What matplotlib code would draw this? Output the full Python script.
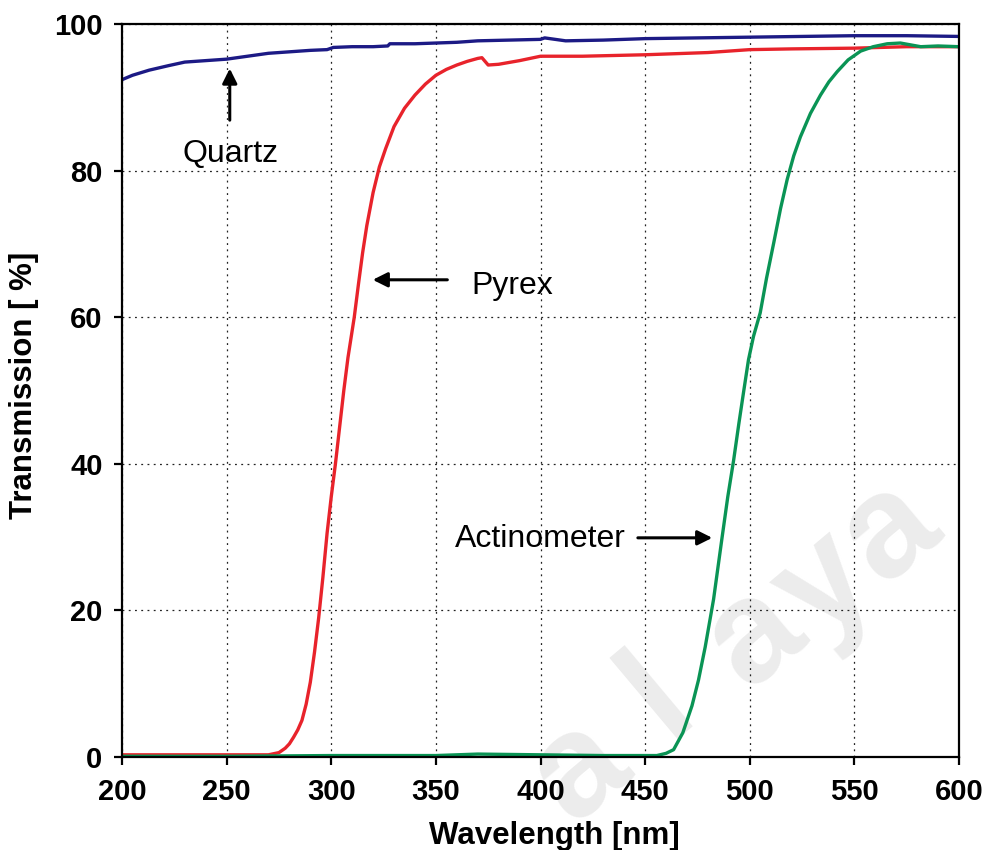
import matplotlib
matplotlib.use("Agg")
import matplotlib.pyplot as plt

plt.rcParams['font.family'] = ['Liberation Sans', 'DejaVu Sans']

# ---- data ----
quartz_nm = [200, 205, 213, 222, 230, 240, 250, 260, 270, 280, 290, 298, 301, 310, 320,
             327, 328, 340, 350, 360, 370, 385, 400, 402, 412, 430, 450, 475, 500, 525,
             550, 575, 600]
quartz_T = [92.4, 93.0, 93.7, 94.3, 94.8, 95.0, 95.2, 95.6, 96.0, 96.2, 96.4, 96.5, 96.8,
            96.9, 96.9, 97.0, 97.3, 97.3, 97.4, 97.5, 97.7, 97.8, 97.9, 98.1, 97.7, 97.8,
            98.0, 98.1, 98.2, 98.3, 98.4, 98.4, 98.3]

pyrex_nm = [200, 250, 270, 275, 278, 280, 282, 284, 286, 288, 290, 292, 294, 296, 298,
            300, 302, 304, 306, 308, 311, 313, 315, 317, 320, 323, 326, 330, 335, 340,
            345, 350, 355, 360, 365, 370, 372, 375, 380, 390, 400, 420, 450, 480, 500,
            520, 550, 575, 600]
pyrex_T = [0.3, 0.3, 0.3, 0.6, 1.2, 1.8, 2.7, 3.7, 5.0, 7.2, 10.2, 14.3, 19.0, 24.5, 30.5,
           35.5, 40.0, 45.0, 50.0, 54.5, 60.0, 64.5, 68.8, 72.5, 77.0, 80.5, 83.0, 86.0,
           88.5, 90.3, 91.8, 93.0, 93.8, 94.4, 94.9, 95.3, 95.4, 94.4, 94.5, 95.0, 95.6,
           95.6, 95.8, 96.1, 96.5, 96.6, 96.7, 96.9, 96.9]

actin_nm = [200, 250, 300, 350, 370, 400, 430, 455.6, 460, 463.6, 468, 472.4, 475.5, 478.7,
            482.7, 486.7, 489.5, 492.3, 494.8, 497, 499.4, 501.8, 505, 508, 511.5, 514.7,
            517.9, 521, 524.2, 529, 533.8, 537.8, 541.8, 547, 553, 559, 565.7, 572, 581.7,
            590, 600]
actin_T = [0.1, 0.1, 0.2, 0.2, 0.4, 0.3, 0.2, 0.2, 0.5, 1.0, 3.3, 7.0, 10.5, 15.0, 21.5,
           29.8, 35.5, 40.5, 45.5, 49.7, 54.2, 57.4, 60.6, 65.3, 70.2, 74.8, 78.8, 82.0,
           84.6, 87.8, 90.3, 92.1, 93.5, 95.1, 96.3, 96.9, 97.3, 97.4, 96.9, 97.0, 96.9]

x_ticks = [200, 250, 300, 350, 400, 450, 500, 550, 600]
y_ticks = [0, 20, 40, 60, 80, 100]

# watermark letters and where they sit (figure fraction)
wm_letters = ['a', 'l', 'a', 'y', 'a']
wm_x = [0.590, 0.670, 0.768, 0.840, 0.905]
wm_y = [0.094, 0.180, 0.252, 0.310, 0.375]

fig = plt.figure(figsize=(9.83, 8.5), dpi=100)
ax = fig.add_axes([0.1241, 0.1094, 0.8515, 0.8624])
ax.set_zorder(1)
ax.patch.set_alpha(0)

# faint watermark behind the axes
for ch, wx, wy in zip(wm_letters, wm_x, wm_y):
    fig.text(wx, wy, ch, fontsize=105, fontweight='bold', color='#ececec',
             rotation=40, ha='center', va='center', zorder=0)

ax.plot(quartz_nm, quartz_T, color='#1c1a85', lw=2.4, zorder=3)
ax.plot(pyrex_nm, pyrex_T, color='#e8232b', lw=2.4, zorder=3)
ax.plot(actin_nm, actin_T, color='#0a9455', lw=2.4, zorder=4)

ax.set_xlim(200, 600)
ax.set_ylim(0, 100)
ax.set_xticks(x_ticks)
ax.set_yticks(y_ticks)
ax.grid(True, color='#222222', linestyle=(0, (1.5, 3.5)), lw=0.9)
ax.set_axisbelow(False)
for s in ax.spines.values():
    s.set_linewidth(1.6)
    s.set_zorder(5)
ax.tick_params(direction='out', length=6, width=1.6, labelsize=21)
ax.tick_params(axis='x', pad=9)
ax.tick_params(axis='y', pad=8)
for lab in ax.get_xticklabels() + ax.get_yticklabels():
    lab.set_fontweight('bold')

ax.text(0.516, -0.087, 'Wavelength [nm]', transform=ax.transAxes, fontsize=22.5,
        fontweight='bold', ha='center', va='top')
ax.text(-0.117, 0.507, 'Transmission [ %]', transform=ax.transAxes, fontsize=22.5,
        fontweight='bold', ha='center', va='center', rotation=90)

arrow = dict(arrowstyle='-|>', color='black', lw=2.2, mutation_scale=22)
ax.annotate('', xy=(251.5, 94.3), xytext=(251.5, 86.5), arrowprops=arrow, zorder=6)
ax.text(251.8, 81.2, 'Quartz', fontsize=23, ha='center', va='baseline')
ax.annotate('', xy=(318.5, 65.1), xytext=(356.8, 65.1), arrowprops=arrow, zorder=6)
ax.text(367.0, 63.2, 'Pyrex', fontsize=23, ha='left', va='baseline')
ax.annotate('', xy=(483.4, 29.9), xytext=(445.2, 29.9), arrowprops=arrow, zorder=6)
ax.text(359.1, 28.7, 'Actinometer', fontsize=23, ha='left', va='baseline')

fig.savefig('out.png', dpi=100, facecolor='white')
